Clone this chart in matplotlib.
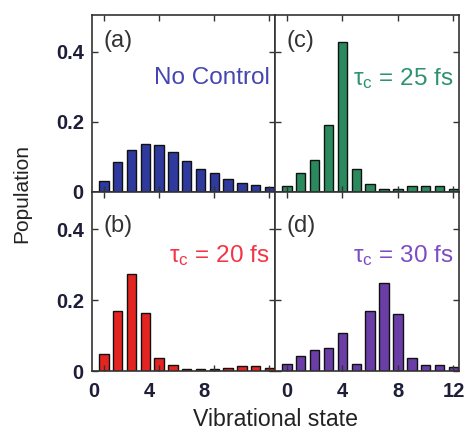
import numpy as np
import matplotlib
matplotlib.use("Agg")
import matplotlib.pyplot as plt
import matplotlib.transforms as mtransforms

plt.rcParams['font.family'] = ['Liberation Sans', 'DejaVu Sans']

#-----------------------------------#
states = list(range(13))
pop_a = [0.032, 0.085, 0.121, 0.137, 0.133, 0.115, 0.089, 0.067, 0.053, 0.037, 0.027, 0.020, 0.014]
pop_b = [0.047, 0.169, 0.275, 0.163, 0.038, 0.017, 0.005, 0.005, 0.005, 0.009, 0.015, 0.015, 0.009]
pop_c = [0.017, 0.053, 0.090, 0.190, 0.429, 0.067, 0.022, 0.009, 0.008, 0.017, 0.017, 0.017, 0.009]
pop_d = [0.021, 0.043, 0.059, 0.064, 0.106, 0.021, 0.170, 0.248, 0.160, 0.038, 0.017, 0.017, 0.011]
panel_tags = ['(a)', '(b)', '(c)', '(d)']
notes = ['No Control', r'$\mathregular{\tau_c}$ = 20 fs',
         r'$\mathregular{\tau_c}$ = 25 fs', r'$\mathregular{\tau_c}$ = 30 fs']
xticks = [0, 4, 8, 12]
yticks = [0, 0.2, 0.4]
#-----------------------------------#

bar_colors = ['#2e3a9e', '#e42420', '#2a8a5e', '#6a3ea6']
note_colors = ['#4646b0', '#f23444', '#2e9272', '#7d4cc4']
label_color = '#1e1e38'

fig = plt.figure(figsize=(4.68, 4.30), dpi=100)
x0, xm, x1 = 0.197, 0.5876, 0.9808
y0, ym, y1 = 0.1372, 0.5535, 0.965

boxes = [(x0, ym, xm - x0, y1 - ym),   # a
         (x0, y0, xm - x0, ym - y0),   # b
         (xm, ym, x1 - xm, y1 - ym),   # c
         (xm, y0, x1 - xm, ym - y0)]   # d
data = [pop_a, pop_b, pop_c, pop_d]

for i, (box, pop) in enumerate(zip(boxes, data)):
    ax = fig.add_axes(box)
    ax.bar(states, pop, width=0.68, color=bar_colors[i], edgecolor='#111111', linewidth=1.0)
    ax.set_xlim(-0.85, 12.4)
    ax.set_ylim(0, 0.505)
    ax.set_xticks(xticks)
    ax.set_yticks(yticks)
    ax.tick_params(direction='in', top=True, right=True, length=4, width=1.0,
                   colors='#333333', labelcolor=label_color, labelsize=14.5)
    ax.tick_params(axis='x', pad=8)
    ax.tick_params(axis='y', pad=6)
    for s in ax.spines.values():
        s.set_color('#333333')
        s.set_linewidth(1.2)

    left = i < 2
    bottom = i in (1, 3)
    if left:
        ax.set_yticklabels(['0', '0.2', '0.4'], fontweight='bold')
    else:
        ax.set_yticklabels([])
    if bottom:
        if left:
            ax.set_xticklabels(['0', '4', '8', ''], fontweight='bold')
            off = mtransforms.ScaledTranslation(-10 / 100, 0, fig.dpi_scale_trans)
            for lab in ax.get_xticklabels():
                lab.set_transform(lab.get_transform() + off)
        else:
            ax.set_xticklabels(['0', '4', '8', '12'], fontweight='bold')
    else:
        ax.set_xticklabels([])

    tag_y = 0.43 if i in (0, 2) else 0.41
    ax.text(0.0, tag_y, panel_tags[i], fontsize=17, color='#333333', ha='left', va='center')
    ax.text(12.0, 0.325, notes[i], fontsize=17.5, color=note_colors[i], ha='right', va='center')

fig.text(0.047, (y0 + y1) / 2, 'Population', rotation=90, fontsize=15,
         color='#222222', ha='center', va='center')
fig.text((x0 + x1) / 2, 0.024, 'Vibrational state', fontsize=16.7,
         color='#222222', ha='center', va='center')

fig.savefig('out.png', dpi=100)
